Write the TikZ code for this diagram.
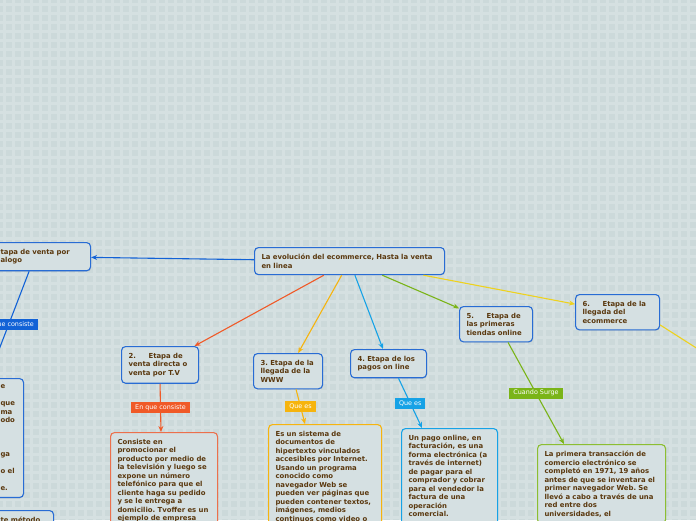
\documentclass[tikz,border=0pt]{standalone}
\usepackage{fontspec}
\setmainfont{DejaVu Sans}
\frenchspacing
\usetikzlibrary{arrows.meta,calc,shadows}
\definecolor{bgc}{RGB}{204,217,218}
\definecolor{gridc}{RGB}{213,224,225}
\definecolor{boxfill}{RGB}{213,224,226}
\definecolor{txt}{RGB}{90,56,14}
\definecolor{cblue}{RGB}{40,108,212}
\definecolor{cred}{RGB}{240,90,40}
\definecolor{credb}{RGB}{236,112,76}
\definecolor{cyel}{RGB}{246,180,14}
\definecolor{ccyan}{RGB}{22,162,230}
\definecolor{cgreen}{RGB}{122,180,24}
\definecolor{cgreenb}{RGB}{140,190,50}
\definecolor{clemon}{RGB}{238,210,30}
\definecolor{lblue}{RGB}{18,98,214}
\tikzset{
  box/.style={draw=cblue, line width=1.1pt, rounded corners=4pt, fill=boxfill,
    anchor=north west, inner xsep=7pt, inner ysep=6.5pt, align=left, text=txt,
    font=\bfseries\fontsize{6.9}{8.5}\selectfont\frenchspacing,
    drop shadow={shadow xshift=0.6pt, shadow yshift=-0.8pt, opacity=0.25}},
  conn/.style={line width=1.1pt, -{Stealth[length=6pt,width=5pt]}},
  plain/.style={line width=1.1pt},
  lab/.style={fill=#1, text=white, font=\fontsize{6.4}{7}\selectfont,
    inner xsep=4pt, inner ysep=0pt, minimum height=11pt},
}
\newcommand{\numlab}[1]{\makebox[20pt][l]{#1}}
\begin{document}
\begin{tikzpicture}[x=1pt,y=-1pt]
\useasboundingbox (0,0) rectangle (696,520);
\clip (0,0) rectangle (696,520);
\fill[bgc] (0,0) rectangle (696,520);
\foreach \i in {4,13,...,700} {
  \draw[gridc, line width=3pt] (\i,0) -- (\i,520);
}
\foreach \j in {4,13,...,520} {
  \draw[gridc, line width=3pt] (0,\j) -- (696,\j);
}

% nodes
\node[box, text width=176pt] (root) at (254,247)
  {La evolución del ecommerce, Hasta la venta\\en linea};
\node[box, text width=83pt] (n1) at (-7,242)
  {tapa de venta por\\alogo};
\node[box, text width=16pt] (n1c) at (-7,378)
  {e\\\mbox{}\\que\\ma\\odo\\\mbox{}\\\mbox{}\\\mbox{}\\ga\\\mbox{}\\o el\\\mbox{}\\e.};
\node[box, text width=46pt] (n1d) at (-7,510)
  {te método\\\mbox{}};
\node[box, text width=63pt] (n2) at (121,346)
  {\numlab{2.}Etapa de\\venta directa o\\venta por T.V};
\node[box, draw=credb, text width=93pt] (c2) at (110,432)
  {Consiste en\\promocionar el\\producto por medio de\\la televisión y luego se\\expone un número\\telefónico para que el\\cliente haga su pedido\\y se le entrega a\\domicilio. Tvoffer es un\\ejemplo de empresa};
\node[box, text width=55pt] (n3) at (253,353)
  {3. Etapa de la\\llegada de la\\WWW};
\node[box, draw=cyel, text width=99pt] (c3) at (268,424)
  {Es un sistema de\\documentos de\\hipertexto vinculados\\accesibles por Internet.\\Usando un programa\\conocido como\\navegador Web se\\pueden ver páginas que\\pueden contener textos,\\imágenes, medios\\continuos como video o};
\node[box, text width=62pt] (n4) at (350,349)
  {4. Etapa de los\\pagos on line};
\node[box, draw=ccyan, text width=82pt] (c4) at (401,428)
  {Un pago online, en\\facturación, es una\\forma electrónica (a\\través de internet)\\de pagar para el\\comprador y cobrar\\para el vendedor la\\factura de una\\operación\\comercial.\\\mbox{}};
\node[box, text width=59pt] (n5) at (459,306)
  {\numlab{5.}Etapa de\\las primeras\\tiendas online};
\node[box, draw=cgreenb, text width=114pt] (c5) at (537,444)
  {La primera transacción de\\comercio electrónico se\\completó en 1971, 19 años\\antes de que se inventara el\\primer navegador Web. Se\\llevó a cabo a través de una\\red entre dos\\universidades, el};
\node[box, text width=70pt] (n6) at (575,294)
  {\numlab{6.}Etapa de la\\llegada del\\ecommerce};
\coordinate (n6out) at (705,353.5);

% connectors from root
\draw[conn, lblue] (root) -- (n1);
\draw[conn, cred] (root) -- (n2);
\draw[conn, cyel] (root) -- (n3);
\draw[conn, ccyan] (root) -- (n4);
\draw[conn, cgreen] (root) -- (n5);
\draw[conn, clemon] (root) -- (n6);
\draw[plain, clemon] ($(n6.south east)+(0,-5.5)$) -- (n6out);

% child connectors with labels
\draw[conn, lblue] ($(n1.south east)+(-62,0)$) -- ($(n1c.north east)+(-36,0)$)
  node[lab=lblue, pos=0.5] {En que consiste};
\draw[conn, cred] (n2.south) -- ($(c2.north west)+(51,0)$)
  node[lab=cred, pos=0.5] {En que consiste};
\draw[conn, cyel] ($(n3.south)+(8,0)$) -- ($(c3.north west)+(37,0)$)
  node[lab=cyel, pos=0.5] {Que es};
\draw[conn, ccyan] ($(n4.south)+(10,0)$) -- ($(c4.north west)+(21,0)$)
  node[lab=ccyan, pos=0.5] {Que es};
\draw[conn, cgreen] ($(n5.south)+(12,0)$) -- ($(c5.north west)+(27,0)$)
  node[lab=cgreen, pos=0.5] {Cuando Surge};
\end{tikzpicture}
\end{document}
